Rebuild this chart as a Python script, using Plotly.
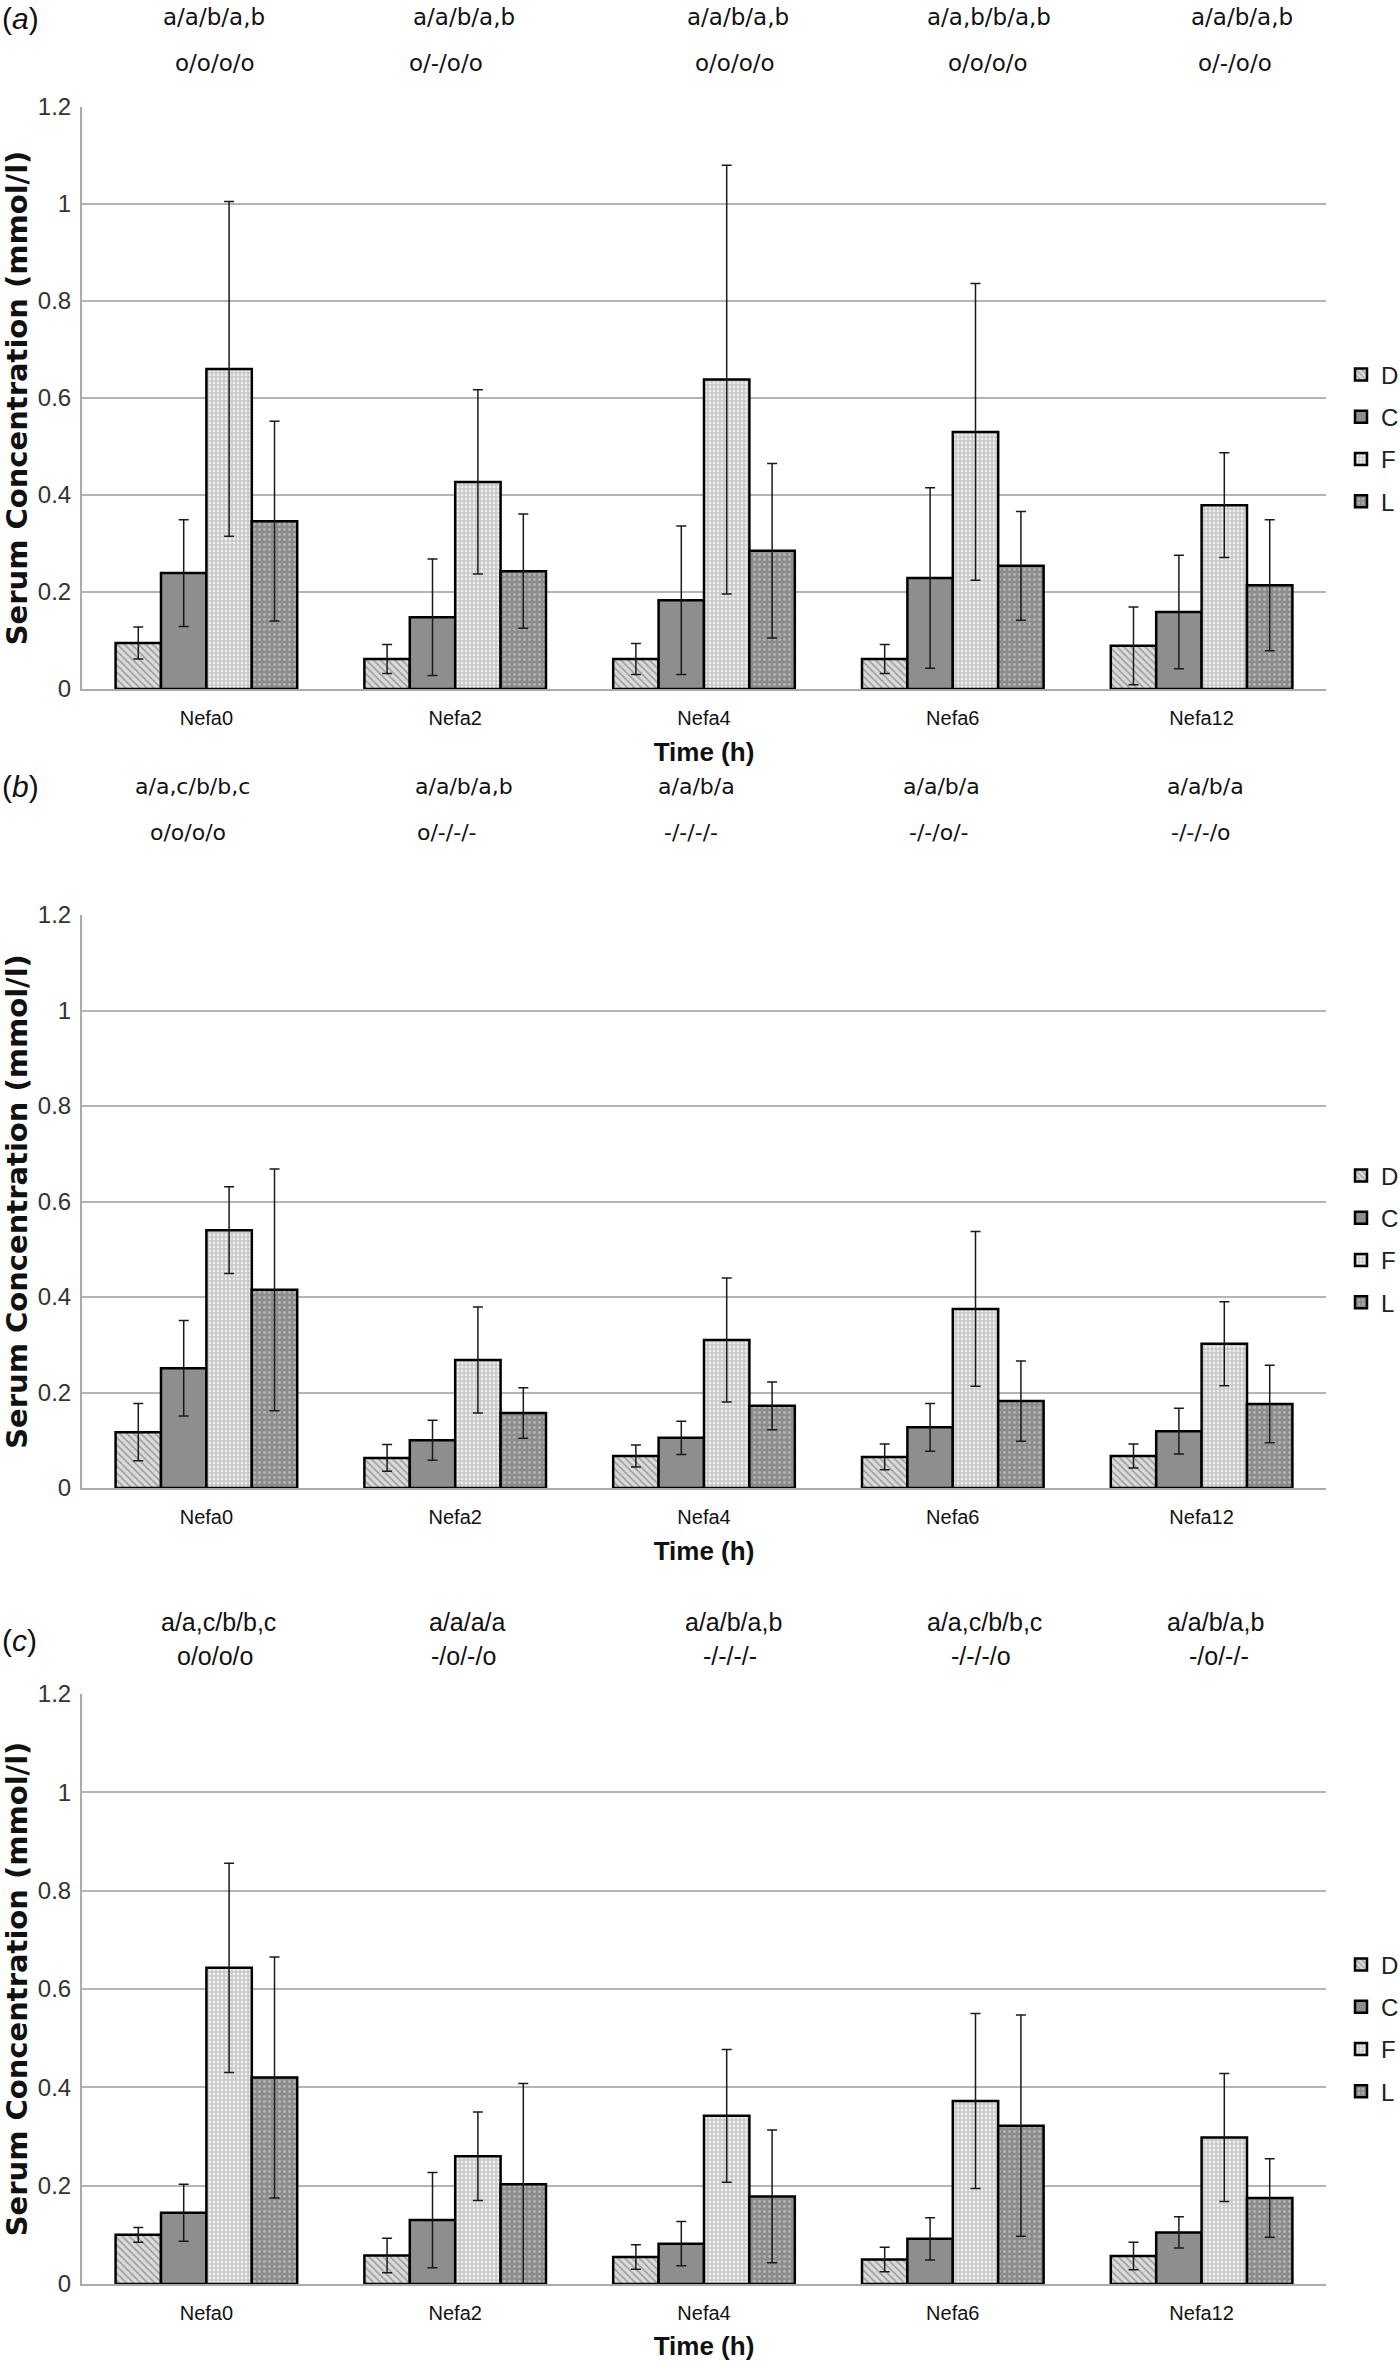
import plotly.graph_objects as go

W, H = 1400, 2361

categories = ["Nefa0", "Nefa2", "Nefa4", "Nefa6", "Nefa12"]
series_names = ["D", "C", "F", "L"]
y_ticks = [0, 0.2, 0.4, 0.6, 0.8, 1.0, 1.2]
y_tick_labels = ["0", "0.2", "0.4", "0.6", "0.8", "1", "1.2"]

# Panel (a)
a_D = [0.095, 0.062, 0.062, 0.062, 0.089]
a_D_err = [0.033, 0.030, 0.032, 0.030, 0.080]
a_C = [0.239, 0.148, 0.183, 0.229, 0.159]
a_C_err = [0.110, 0.120, 0.153, 0.186, 0.117]
a_F = [0.660, 0.427, 0.638, 0.530, 0.379]
a_F_err = [0.345, 0.190, 0.442, 0.306, 0.108]
a_L = [0.346, 0.243, 0.285, 0.254, 0.214]
a_L_err = [0.206, 0.118, 0.180, 0.112, 0.135]

# Panel (b)
b_D = [0.117, 0.063, 0.067, 0.065, 0.067]
b_D_err = [0.060, 0.028, 0.023, 0.027, 0.025]
b_C = [0.251, 0.100, 0.105, 0.127, 0.119]
b_C_err = [0.100, 0.042, 0.035, 0.050, 0.048]
b_F = [0.540, 0.268, 0.310, 0.375, 0.302]
b_F_err = [0.091, 0.111, 0.130, 0.162, 0.088]
b_L = [0.415, 0.157, 0.172, 0.182, 0.176]
b_L_err = [0.253, 0.053, 0.050, 0.084, 0.081]

# Panel (c)
c_D = [0.100, 0.058, 0.055, 0.050, 0.057]
c_D_err = [0.015, 0.035, 0.025, 0.025, 0.028]
c_C = [0.145, 0.130, 0.082, 0.092, 0.105]
c_C_err = [0.058, 0.097, 0.045, 0.043, 0.032]
c_F = [0.643, 0.260, 0.342, 0.372, 0.298]
c_F_err = [0.213, 0.090, 0.135, 0.178, 0.130]
c_L = [0.420, 0.203, 0.178, 0.322, 0.175]
c_L_err = [0.245, 0.205, 0.135, 0.225, 0.080]

# significance letters above each group
a_row1 = ["a/a/b/a,b", "a/a/b/a,b", "a/a/b/a,b", "a/a,b/b/a,b", "a/a/b/a,b"]
a_row2 = ["o/o/o/o", "o/-/o/o", "o/o/o/o", "o/o/o/o", "o/-/o/o"]
b_row1 = ["a/a,c/b/b,c", "a/a/b/a,b", "a/a/b/a", "a/a/b/a", "a/a/b/a"]
b_row2 = ["o/o/o/o", "o/-/-/-", "-/-/-/-", "-/-/o/-", "-/-/-/o"]
c_row1 = ["a/a,c/b/b,c", "a/a/a/a", "a/a/b/a,b", "a/a,c/b/b,c", "a/a/b/a,b"]
c_row2 = ["o/o/o/o", "-/o/-/o", "-/-/-/-", "-/-/-/o", "-/o/-/-"]
panel_labels = ["(<i>a</i>)", "(<i>b</i>)", "(<i>c</i>)"]

# ---------------- layout geometry (pixels) ----------------
panels = [
    dict(vals=[(a_D, a_D_err), (a_C, a_C_err), (a_F, a_F_err), (a_L, a_L_err)],
         x0=82, x1=1326, top=107, bot=689,
         row1=a_row1, row2=a_row2, r1x=[214, 464, 738, 989, 1242], r2x=[215, 446, 735, 988, 1235],
         r1y=17, r2y=63, lab_y=18, font="DejaVu Sans", fsize=23, leg_y=438),
    dict(vals=[(b_D, b_D_err), (b_C, b_C_err), (b_F, b_F_err), (b_L, b_L_err)],
         x0=82, x1=1326, top=915, bot=1488,
         row1=b_row1, row2=b_row2, r1x=[192, 464, 696, 941, 1205], r2x=[188, 447, 691, 939, 1201],
         r1y=786, r2y=832, lab_y=786, font="DejaVu Sans", fsize=22, leg_y=1239),
    dict(vals=[(c_D, c_D_err), (c_C, c_C_err), (c_F, c_F_err), (c_L, c_L_err)],
         x0=82, x1=1326, top=1694, bot=2284,
         row1=c_row1, row2=c_row2, r1x=[218, 467, 733, 984, 1215], r2x=[215, 464, 730, 981, 1219],
         r1y=1622, r2y=1656, lab_y=1640, font="Liberation Sans", fsize=25, leg_y=2028),
]

styles = {
    "D": dict(color="#d0d0d0", pattern=dict(shape="\\", fgcolor="#666666", bgcolor="#dcdcdc", size=5, solidity=0.35)),
    "C": dict(color="#8e8e8e", pattern=None),
    "F": dict(color="#ffffff", pattern=dict(shape="+", fgcolor="#8a8a8a", bgcolor="#eeeeee", size=4, solidity=0.5)),
    "L": dict(color="#999999", pattern=dict(shape=".", fgcolor="#dcdcdc", bgcolor="#8c8c8c", size=5, solidity=0.25)),
}


def px_x(p):
    return p / W


def px_y(p):
    return 1 - p / H


fig = go.Figure()
annotations = []
layout_axes = {}

for i, pn in enumerate(panels):
    sfx = "" if i == 0 else str(i + 1)
    xa, ya = "x" + sfx, "y" + sfx
    leg = "legend" + sfx
    for name, (vals, errs) in zip(series_names, pn["vals"]):
        st = styles[name]
        marker = dict(color=st["color"], line=dict(color="#000000", width=2.5))
        if st["pattern"]:
            marker["pattern"] = st["pattern"]
        fig.add_trace(go.Bar(
            x=categories, y=vals, name=name, xaxis=xa, yaxis=ya,
            marker=marker, legend=leg, legendgroup=f"{i}{name}",
            error_y=dict(type="data", array=errs, visible=True, color="#1a1a1a", thickness=1.5, width=5),
        ))
    layout_axes["xaxis" + sfx] = dict(
        domain=[px_x(pn["x0"]), px_x(pn["x1"])], anchor=ya,
        showline=True, linecolor="#aaaaaa", linewidth=2, showgrid=False,
        tickfont=dict(family="Liberation Sans", size=20, color="#111111"),
        ticks="", ticklabelstandoff=10,
        title=dict(text="<b>Time (h)</b>", font=dict(family="Liberation Sans", size=26, color="#111111"), standoff=15),
    )
    layout_axes["yaxis" + sfx] = dict(
        domain=[px_y(pn["bot"]), px_y(pn["top"])], anchor=xa,
        range=[0, 1.2], tickvals=y_ticks, ticktext=y_tick_labels,
        showline=True, linecolor="#aaaaaa", linewidth=2,
        showgrid=True, gridcolor="#b4b4b4", gridwidth=1.5, zeroline=False,
        tickfont=dict(family="Liberation Sans", size=24, color="#333333"),
        ticks="", ticklabelstandoff=4,
        title=dict(text="<b>Serum Concentration (mmol/l)</b>", font=dict(family="DejaVu Sans", size=29, color="#111111"), standoff=6),
    )
    layout_axes[leg] = dict(
        x=px_x(1341), y=px_y(pn["leg_y"]), xanchor="left", yanchor="middle",
        font=dict(family="Liberation Sans", size=24, color="#222222"),
        bgcolor="rgba(0,0,0,0)", tracegroupgap=8, itemwidth=30,
    )
    for txt, x in zip(pn["row1"], pn["r1x"]):
        annotations.append(dict(text=txt, x=px_x(x), y=px_y(pn["r1y"]), xref="paper", yref="paper",
                                showarrow=False, xanchor="center", yanchor="middle",
                                font=dict(family=pn["font"], size=pn["fsize"], color="#111111")))
    for txt, x in zip(pn["row2"], pn["r2x"]):
        annotations.append(dict(text=txt, x=px_x(x), y=px_y(pn["r2y"]), xref="paper", yref="paper",
                                showarrow=False, xanchor="center", yanchor="middle",
                                font=dict(family=pn["font"], size=pn["fsize"], color="#111111")))
    annotations.append(dict(text=panel_labels[i], x=0.0, y=px_y(pn["lab_y"]), xref="paper", yref="paper",
                            showarrow=False, xanchor="left", yanchor="middle",
                            font=dict(family="Liberation Sans", size=30, color="#111111")))

fig.update_layout(
    width=W, height=H, margin=dict(l=0, r=0, t=0, b=0, autoexpand=False),
    paper_bgcolor="white", plot_bgcolor="white",
    barmode="group", bargap=0.27, bargroupgap=0,
    annotations=annotations, showlegend=True,
    **layout_axes,
)

fig.write_html(
    "out.html",
    config={"displayModeBar": False},
    post_script="document.body.style.margin='0px';document.body.style.overflow='hidden';",
)
